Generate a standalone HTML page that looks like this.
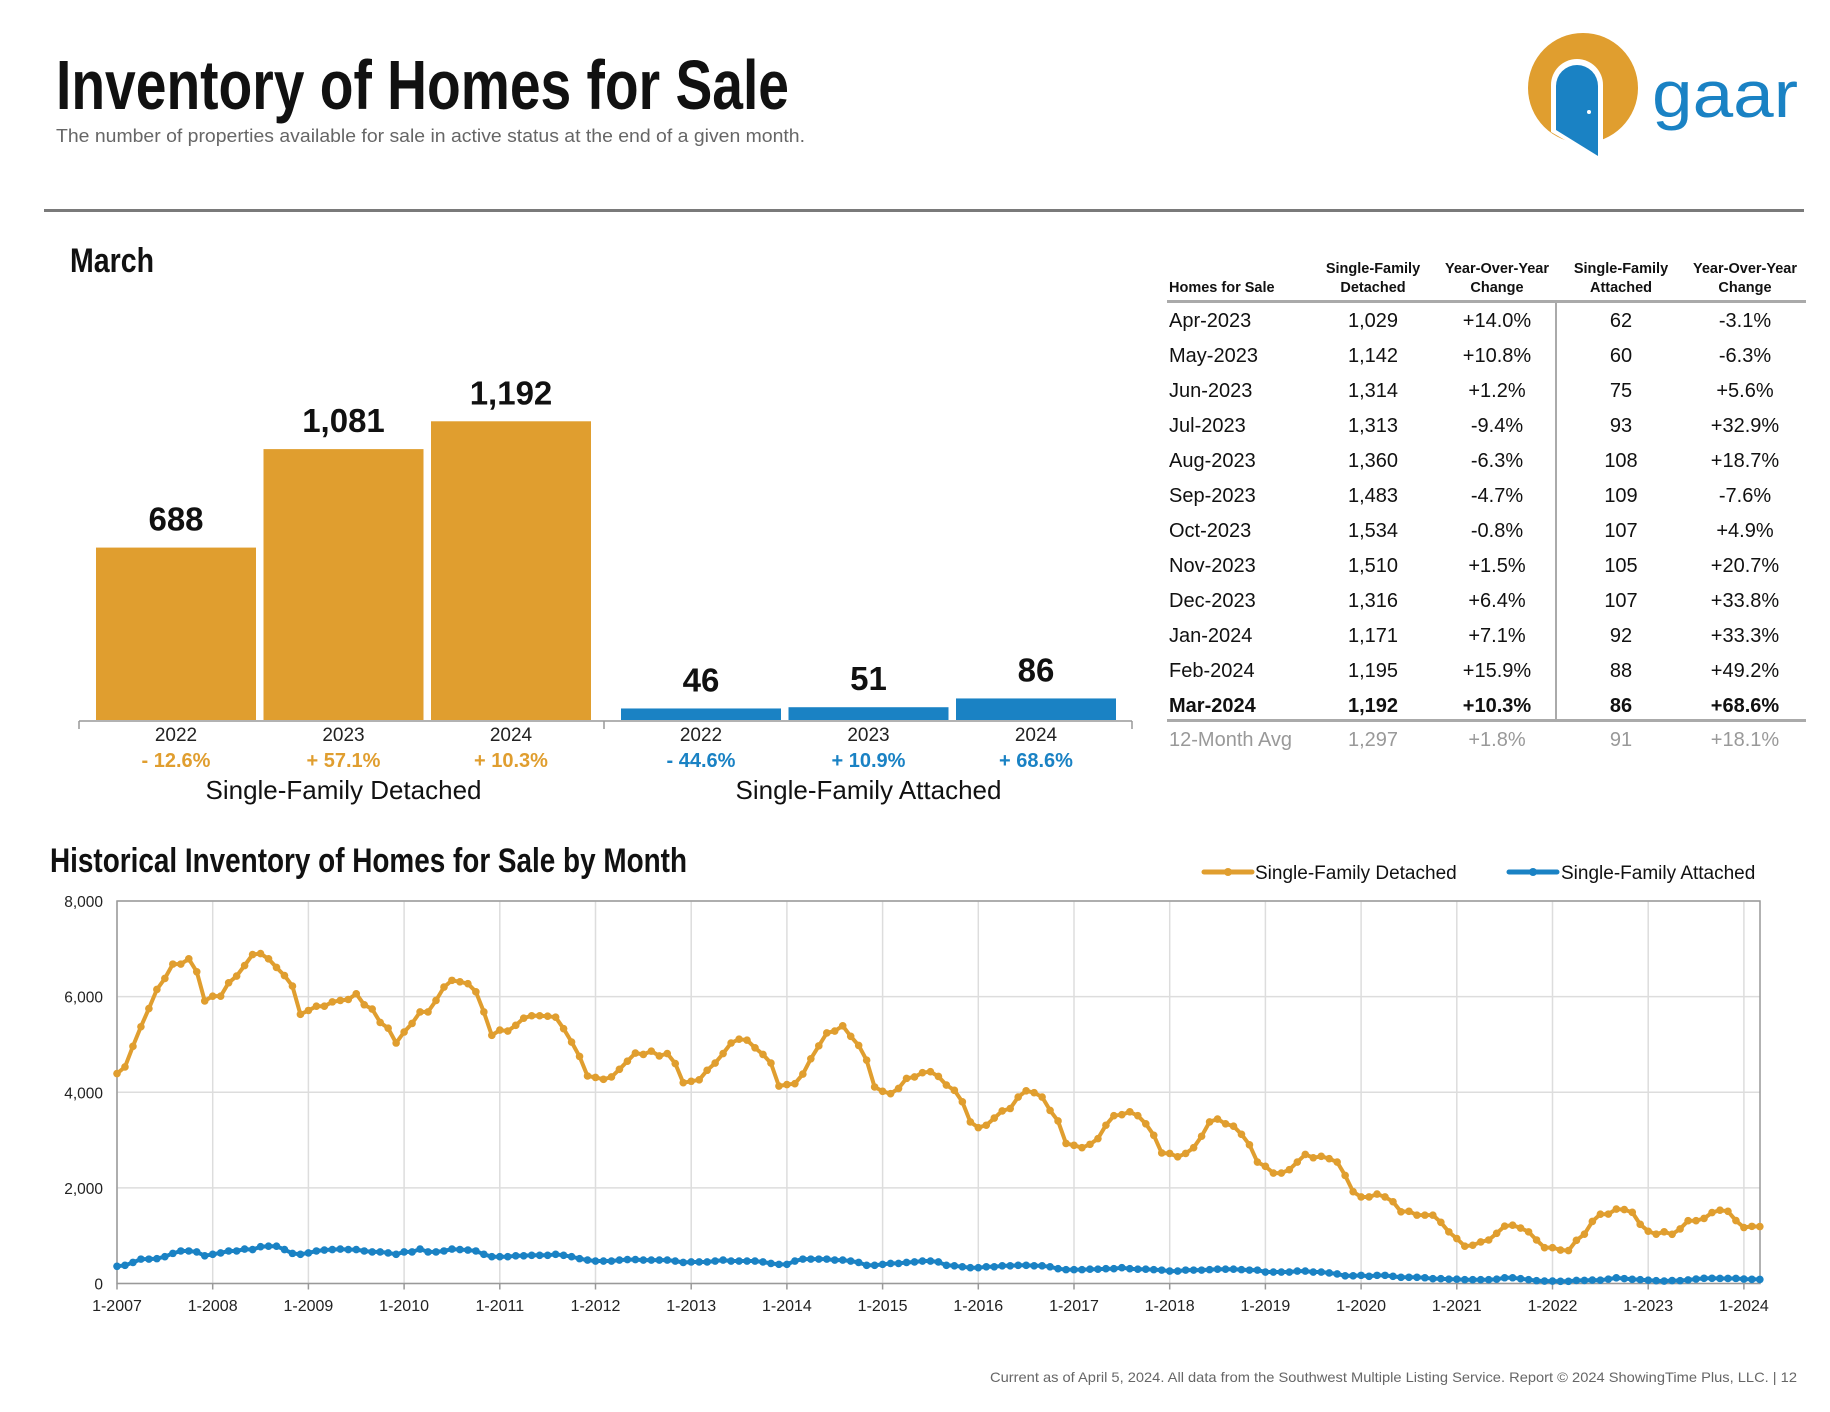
<!DOCTYPE html>
<html><head><meta charset="utf-8"><style>
html,body{margin:0;padding:0;background:#fff;}
svg{display:block;font-family:"Liberation Sans",sans-serif;}
</style></head><body>
<svg id="root" width="1830" height="1412" viewBox="0 0 1830 1412" xmlns="http://www.w3.org/2000/svg">
<text x="56" y="109" font-size="70" font-weight="bold" fill="#111" textLength="733" lengthAdjust="spacingAndGlyphs">Inventory of Homes for Sale</text>
<text x="56" y="142" font-size="18" fill="#666" textLength="749" lengthAdjust="spacingAndGlyphs">The number of properties available for sale in active status at the end of a given month.</text>
<g>
<circle cx="1583" cy="88" r="55" fill="#E09E2F"/>
<path d="M1551 132 L1551 85 A26 26 0 0 1 1603 85 L1603 162 Z" fill="#fff"/>
<path d="M1556 130 L1556 86 A21 21 0 0 1 1598 86 L1598 156 Z" fill="#1A82C4"/>
<circle cx="1589" cy="112" r="2" fill="#fff"/>
<text x="1652" y="117" font-size="66" fill="#1A82C4" textLength="146" lengthAdjust="spacingAndGlyphs">gaar</text>
</g>
<rect x="44" y="209" width="1760" height="3" fill="#7a7a7a"/>
<text x="70" y="272" font-size="34" font-weight="bold" fill="#111" textLength="84" lengthAdjust="spacingAndGlyphs">March</text>
<g id="bars"></g>
<g id="table"></g>
<text x="50" y="872" font-size="34" font-weight="bold" fill="#111" textLength="637" lengthAdjust="spacingAndGlyphs">Historical Inventory of Homes for Sale by Month</text>
<g id="line"></g>
<text x="1797" y="1382" font-size="14" fill="#666" text-anchor="end" textLength="807" lengthAdjust="spacingAndGlyphs">Current as of April 5, 2024. All data from the Southwest Multiple Listing Service. Report © 2024 ShowingTime Plus, LLC.  |  12</text>
</svg>
<script>
const NS="http://www.w3.org/2000/svg";
const ORANGE="#E09E2F", BLUE="#1A82C4";
// ---- bar chart data ----
const barYears=["2022","2023","2024"];
const sfdMarch=[688,1081,1192];
const sfaMarch=[46,51,86];
const sfdPct=["- 12.6%","+ 57.1%","+ 10.3%"];
const sfaPct=["- 44.6%","+ 10.9%","+ 68.6%"];
const barGroups=["Single-Family Detached","Single-Family Attached"];
// ---- table data ----
const tableMonths=["Apr-2023","May-2023","Jun-2023","Jul-2023","Aug-2023","Sep-2023","Oct-2023","Nov-2023","Dec-2023","Jan-2024","Feb-2024","Mar-2024"];
const tableSfd=["1,029","1,142","1,314","1,313","1,360","1,483","1,534","1,510","1,316","1,171","1,195","1,192"];
const tableSfdChg=["+14.0%","+10.8%","+1.2%","-9.4%","-6.3%","-4.7%","-0.8%","+1.5%","+6.4%","+7.1%","+15.9%","+10.3%"];
const tableSfa=["62","60","75","93","108","109","107","105","107","92","88","86"];
const tableSfaChg=["-3.1%","-6.3%","+5.6%","+32.9%","+18.7%","-7.6%","+4.9%","+20.7%","+33.8%","+33.3%","+49.2%","+68.6%"];
const tableAvg=["12-Month Avg","1,297","+1.8%","91","+18.1%"];
// ---- line chart data ----
const sfdSeries=[4390,4530,4960,5370,5750,6150,6380,6680,6680,6790,6520,5910,
6010,6010,6290,6430,6650,6880,6900,6790,6610,6440,6220,5630,
5710,5800,5800,5890,5920,5940,6060,5830,5740,5460,5340,5030,
5260,5440,5680,5680,5920,6200,6340,6310,6270,6100,5680,5190,
5300,5280,5400,5550,5600,5600,5590,5570,5330,5050,4750,4340,
4310,4270,4320,4480,4650,4820,4790,4860,4760,4810,4600,4200,
4230,4260,4460,4610,4810,5030,5110,5090,4930,4790,4610,4130,
4160,4180,4380,4700,4970,5240,5280,5390,5170,4980,4670,4110,
4020,3970,4080,4290,4320,4410,4430,4330,4150,4040,3800,3380,
3260,3310,3460,3610,3660,3900,4030,3990,3900,3620,3400,2930,
2890,2840,2910,3030,3310,3510,3530,3590,3510,3340,3100,2730,
2720,2650,2720,2840,3080,3380,3440,3340,3290,3120,2900,2540,
2450,2310,2310,2380,2540,2700,2630,2660,2610,2540,2260,1920,
1810,1810,1870,1810,1710,1500,1510,1430,1430,1430,1280,1080,
940,780,800,870,910,1050,1200,1220,1160,1080,910,750,
750,700,688,903,1031,1298,1449,1451,1556,1546,1488,1237,
1093,1031,1081,1029,1142,1314,1313,1360,1483,1534,1510,1316,
1171,1195,1192];
const sfaSeries=[360,380,440,510,510,520,560,630,680,680,660,580,
610,640,680,680,720,710,770,780,780,710,630,610,
640,680,700,710,720,710,710,680,660,660,640,610,
660,660,720,660,660,680,720,710,700,680,610,560,
560,560,580,580,590,590,590,610,590,560,520,490,
470,470,470,490,500,500,490,490,490,490,470,440,
450,450,450,470,490,470,470,470,470,450,420,400,
400,470,510,510,510,510,490,490,470,440,380,380,
400,420,420,440,450,470,470,450,380,370,350,330,
330,350,350,370,370,380,380,370,370,350,310,290,
290,290,300,300,310,310,330,310,300,300,290,280,
260,260,280,280,280,290,300,300,300,290,280,280,
240,240,240,240,260,260,240,240,220,200,160,160,
170,150,170,170,150,130,130,130,120,100,100,90,
90,80,80,80,80,90,120,120,100,80,60,50,
50,45,46,64,64,71,70,91,118,102,87,80,
69,59,51,62,60,75,93,108,109,107,105,107,
92,88,86];
const yTicks=[0,2000,4000,6000,8000];
const yTickLabels=["0","2,000","4,000","6,000","8,000"];
const xTickLabels=["1-2007","1-2008","1-2009","1-2010","1-2011","1-2012","1-2013","1-2014","1-2015","1-2016","1-2017","1-2018","1-2019","1-2020","1-2021","1-2022","1-2023","1-2024"];

function mk(tag,attrs,parent,text){const e=document.createElementNS(NS,tag);for(const k in attrs)e.setAttribute(k,attrs[k]);if(text!==undefined)e.textContent=text;parent.appendChild(e);return e;}

// ---- bars ----
(function(){
const g=document.getElementById('bars');
const base=720, k=0.2506, bw=160, step=167.5;
const groupX=[96,621];
const series=[sfdMarch,sfaMarch], pcts=[sfdPct,sfaPct], cols=[ORANGE,BLUE];
const ax=mk('path',{d:'M79 721 H1132 M79 721 V729 M604 721 V729 M1132 721 V729',stroke:'#999','stroke-width':1.5,fill:'none'},g);


for(let s=0;s<2;s++){
 for(let i=0;i<3;i++){
  const v=series[s][i], h=v*k, x=groupX[s]+i*step, cx=x+bw/2;
  const r=mk('rect',{x:x,y:base-h,width:bw,height:h,fill:cols[s]},g);
  
  
  const t=mk('text',{x:cx,y:base-h-17,'font-size':33,'font-weight':'bold','text-anchor':'middle',fill:'#111'},g,v.toLocaleString('en-US'));
  
  
  const y=mk('text',{x:cx,y:741,'font-size':19,'text-anchor':'middle',fill:'#222'},g,barYears[i]);
  
  
  const p=mk('text',{x:cx,y:767,'font-size':20,'font-weight':'bold','text-anchor':'middle',fill:cols[s]},g,pcts[s][i]);
  
  
 }
 const c=mk('text',{x:groupX[s]+step+bw/2,y:799,'font-size':26,'text-anchor':'middle',fill:'#111'},g,barGroups[s]);
 
 
}
})();

// ---- table ----
(function(){
const g=document.getElementById('table');
const cx=[1373,1497,1621,1745];
const h1=["Single-Family","Year-Over-Year","Single-Family","Year-Over-Year"];
const h2=["Detached","Change","Attached","Change"];
const th=mk('text',{x:1169,y:292,'font-size':14.5,'font-weight':'bold',fill:'#111'},g,'Homes for Sale');


for(let c=0;c<4;c++){
 const a=mk('text',{x:cx[c],y:273,'font-size':14.5,'font-weight':'bold','text-anchor':'middle',fill:'#111'},g,h1[c]);
 
 
 const b=mk('text',{x:cx[c],y:292,'font-size':14.5,'font-weight':'bold','text-anchor':'middle',fill:'#111'},g,h2[c]);
 
 
}
const l1=mk('rect',{x:1167,y:300,width:639,height:3,fill:'#aaa'},g);


const l2=mk('rect',{x:1167,y:719,width:639,height:3,fill:'#aaa'},g);


const l3=mk('rect',{x:1555,y:302,width:2,height:418,fill:'#aaa'},g);


for(let r=0;r<tableMonths.length;r++){
 const y=327+r*35, bold=r===tableMonths.length-1;
 const vals=[tableSfd[r],tableSfdChg[r],tableSfa[r],tableSfaChg[r]];
 const m=mk('text',{x:1169,y:y,'font-size':20,'font-weight':bold?'bold':'normal',fill:'#111'},g,tableMonths[r]);
 
 
 for(let c=0;c<4;c++){
  const t=mk('text',{x:cx[c],y:y,'font-size':20,'font-weight':bold?'bold':'normal','text-anchor':'middle',fill:'#111'},g,vals[c]);
  
  
 }
}
const a0=mk('text',{x:1169,y:746,'font-size':20,fill:'#999'},g,tableAvg[0]);


for(let c=0;c<4;c++){
 const t=mk('text',{x:cx[c],y:746,'font-size':20,'text-anchor':'middle',fill:'#999'},g,tableAvg[c+1]);
 
 
}
})();

// ---- line chart ----
(function(){
const g=document.getElementById('line');
const L=117,R=1760,T=901,B=1283.5, x0=117, mpx=7.975;
const X=i=>x0+i*mpx;
const Y=v=>B-(v/8000)*(B-T);
for(let i=0;i<yTicks.length;i++){
 const y=Y(yTicks[i]);
 const gl=mk('line',{x1:L,x2:R,y1:y,y2:y,stroke:'#ddd','stroke-width':1.5},g);
 
 
 const t=mk('text',{x:103,y:y+6,'font-size':15.5,'text-anchor':'end',fill:'#222'},g,yTickLabels[i]);
 
 
}
for(let j=0;j<xTickLabels.length;j++){
 const x=X(j*12);
 const gl=mk('line',{x1:x,x2:x,y1:T,y2:B,stroke:'#ddd','stroke-width':1.5},g);
 
 
 const tk=mk('line',{x1:x,x2:x,y1:B,y2:B+6,stroke:'#999','stroke-width':1.5},g);
 
 
 const t=mk('text',{x:x,y:1311,'font-size':16,'text-anchor':'middle',fill:'#222'},g,xTickLabels[j]);
 
 
}
const box=mk('rect',{x:L,y:T,width:R-L,height:B-T,fill:'none',stroke:'#999','stroke-width':1.5},g);


const ser=[[sfdSeries,ORANGE,'detached'],[sfaSeries,BLUE,'attached']];
for(const [data,col,nm] of ser){
 let d='';
 data.forEach((v,i)=>{d+=(i?'L':'M')+X(i).toFixed(1)+' '+Y(v).toFixed(1);});
 const p=mk('path',{d:d,fill:'none',stroke:col,'stroke-width':4,'stroke-linejoin':'round'},g);
 
 
 data.forEach((v,i)=>{
  const c=mk('circle',{cx:X(i),cy:Y(v),r:3.8,fill:col},g);
  
  
 });
}
// legend
const leg=[[1204,1255,ORANGE,'Single-Family Detached'],[1509,1561,BLUE,'Single-Family Attached']];
for(const [x1,tx,col,label] of leg){
 const lg=mk('g',{},g);
 
 
 mk('line',{x1:x1,x2:x1+48,y1:872,y2:872,stroke:col,'stroke-width':5,'stroke-linecap':'round'},lg);
 mk('circle',{cx:x1+24,cy:872,r:4,fill:col},lg);
 const t=mk('text',{x:tx,y:879,'font-size':19,fill:'#111'},lg,label);
 
 
}
})();
</script>
</body></html>
